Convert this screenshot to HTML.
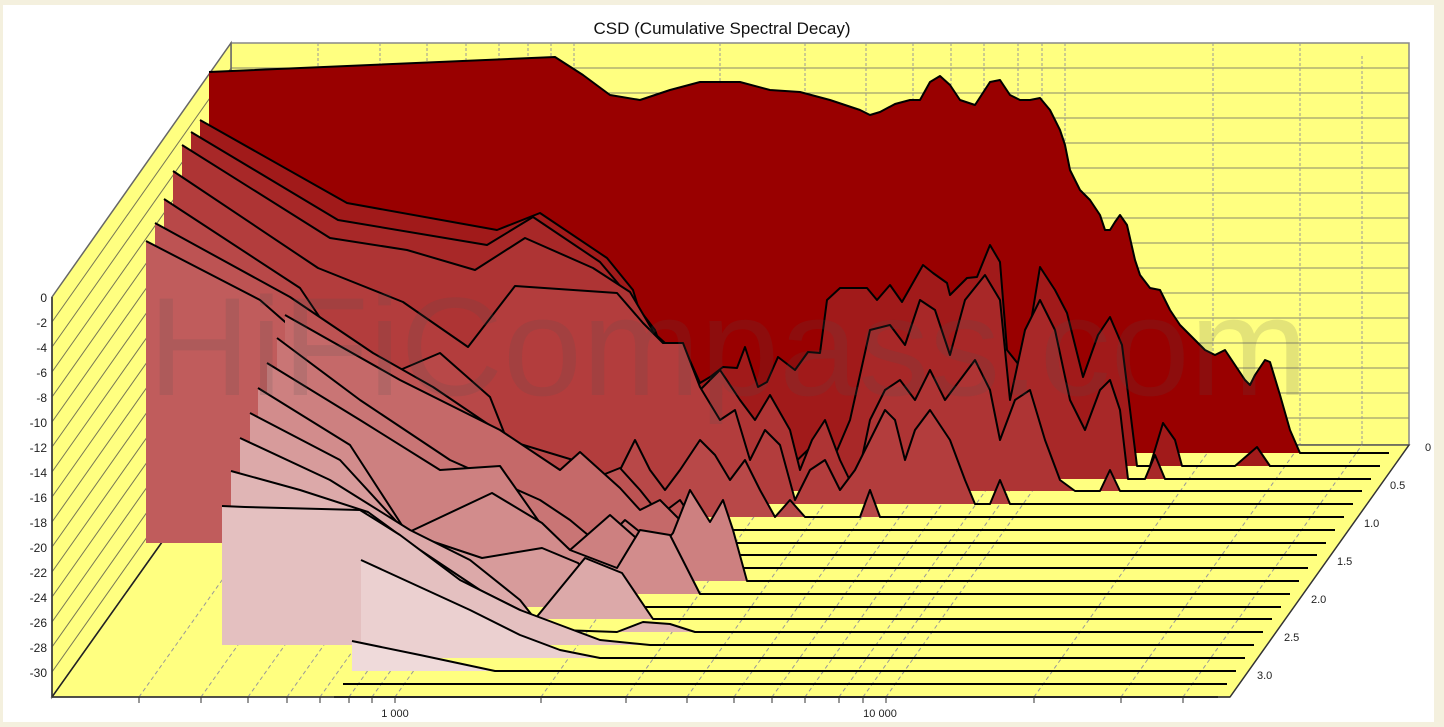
<!DOCTYPE html>
<html><head><meta charset="utf-8"><style>
html,body{margin:0;padding:0;background:#f4f0de;}
svg{display:block;}
text{font-family:"Liberation Sans",Arial,sans-serif;}
</style></head><body>
<svg width="1444" height="727" viewBox="0 0 1444 727" xmlns="http://www.w3.org/2000/svg">
<rect x="0" y="0" width="1444" height="727" fill="#f4f0de"/>
<rect x="3" y="5" width="1431" height="717" fill="#ffffff"/>
<text x="722" y="34" font-size="17" text-anchor="middle" fill="#111">CSD (Cumulative Spectral Decay)</text>

<!-- back wall -->
<rect x="231" y="43" width="1178" height="402" fill="#ffff80" stroke="#888" stroke-width="1.5"/>
<g stroke="#8a8a6a" stroke-width="1">
<line x1="231" y1="68" x2="1409" y2="68"/><line x1="231" y1="93" x2="1409" y2="93"/><line x1="231" y1="118" x2="1409" y2="118"/><line x1="231" y1="143" x2="1409" y2="143"/><line x1="231" y1="168" x2="1409" y2="168"/><line x1="231" y1="193" x2="1409" y2="193"/><line x1="231" y1="218" x2="1409" y2="218"/><line x1="231" y1="243" x2="1409" y2="243"/><line x1="231" y1="268" x2="1409" y2="268"/><line x1="231" y1="293" x2="1409" y2="293"/><line x1="231" y1="318" x2="1409" y2="318"/><line x1="231" y1="343" x2="1409" y2="343"/><line x1="231" y1="368" x2="1409" y2="368"/><line x1="231" y1="393" x2="1409" y2="393"/><line x1="231" y1="418" x2="1409" y2="418"/>
</g>
<g stroke="#999" stroke-width="1" stroke-dasharray="3,2">
<line x1="318" y1="43" x2="318" y2="445"/><line x1="380" y1="43" x2="380" y2="445"/><line x1="427" y1="43" x2="427" y2="445"/><line x1="466" y1="43" x2="466" y2="445"/><line x1="499" y1="43" x2="499" y2="445"/><line x1="528" y1="43" x2="528" y2="445"/><line x1="551" y1="43" x2="551" y2="445"/><line x1="574" y1="43" x2="574" y2="445"/><line x1="720" y1="43" x2="720" y2="445"/><line x1="805" y1="43" x2="805" y2="445"/><line x1="866" y1="43" x2="866" y2="445"/><line x1="913" y1="43" x2="913" y2="445"/><line x1="951" y1="43" x2="951" y2="445"/><line x1="984" y1="43" x2="984" y2="445"/><line x1="1018" y1="43" x2="1018" y2="445"/><line x1="1042" y1="43" x2="1042" y2="445"/><line x1="1065" y1="43" x2="1065" y2="445"/><line x1="1213" y1="43" x2="1213" y2="445"/><line x1="1300" y1="43" x2="1300" y2="445"/><line x1="1362" y1="56" x2="1362" y2="445"/>
</g>

<!-- left wall -->
<polygon points="52,297 231,43 231,445 52,697" fill="#ffff80" stroke="#666" stroke-width="1.5"/>
<g stroke="#777755" stroke-width="1">
<line x1="52" y1="322" x2="231" y2="68"/><line x1="52" y1="347" x2="231" y2="93"/><line x1="52" y1="372" x2="231" y2="118"/><line x1="52" y1="397" x2="231" y2="143"/><line x1="52" y1="422" x2="231" y2="168"/><line x1="52" y1="447" x2="231" y2="193"/><line x1="52" y1="472" x2="231" y2="218"/><line x1="52" y1="497" x2="231" y2="243"/><line x1="52" y1="522" x2="231" y2="268"/><line x1="52" y1="547" x2="231" y2="293"/><line x1="52" y1="572" x2="231" y2="318"/><line x1="52" y1="597" x2="231" y2="343"/><line x1="52" y1="622" x2="231" y2="368"/><line x1="52" y1="647" x2="231" y2="393"/><line x1="52" y1="672" x2="231" y2="418"/>
</g>

<!-- floor -->
<polygon points="52,697 231,445 1409,445 1230,697" fill="#ffff80" stroke="#555" stroke-width="1.5"/>
<g stroke="#999" stroke-width="1" stroke-dasharray="4,3">
<line x1="139" y1="697" x2="318" y2="445"/><line x1="201" y1="697" x2="380" y2="445"/><line x1="248" y1="697" x2="427" y2="445"/><line x1="287" y1="697" x2="466" y2="445"/><line x1="320" y1="697" x2="499" y2="445"/><line x1="349" y1="697" x2="528" y2="445"/><line x1="372" y1="697" x2="551" y2="445"/><line x1="395" y1="697" x2="574" y2="445"/><line x1="541" y1="697" x2="720" y2="445"/><line x1="626" y1="697" x2="805" y2="445"/><line x1="687" y1="697" x2="866" y2="445"/><line x1="734" y1="697" x2="913" y2="445"/><line x1="772" y1="697" x2="951" y2="445"/><line x1="805" y1="697" x2="984" y2="445"/><line x1="839" y1="697" x2="1018" y2="445"/><line x1="863" y1="697" x2="1042" y2="445"/><line x1="886" y1="697" x2="1065" y2="445"/><line x1="1034" y1="697" x2="1213" y2="445"/><line x1="1121" y1="697" x2="1300" y2="445"/><line x1="1183" y1="697" x2="1362" y2="445"/>
</g>
<line x1="52" y1="697" x2="231" y2="445" stroke="#222" stroke-width="1.5"/>

<g stroke="#000" stroke-width="2" stroke-linejoin="round" fill="none">
<!-- s0 -->
<polygon stroke="none" fill="#990000" points="209,453 209,72 555,57 583,75 610,95 640,100 670,90 700,82 740,82 770,90 800,92 830,100 860,110 870,115 880,112 895,104 910,100 920,100 930,82 940,76 950,85 960,100 975,105 990,82 1000,80 1010,95 1020,100 1030,100 1040,98 1050,110 1060,130 1065,145 1070,170 1080,190 1090,200 1100,215 1105,230 1110,230 1115,222 1120,215 1127,225 1135,260 1140,275 1150,288 1160,290 1170,310 1180,325 1195,340 1205,350 1215,355 1225,350 1235,365 1245,380 1250,385 1255,375 1265,360 1270,362 1280,395 1290,430 1300,453"/>
<polyline points="209,72 555,57 583,75 610,95 640,100 670,90 700,82 740,82 770,90 800,92 830,100 860,110 870,115 880,112 895,104 910,100 920,100 930,82 940,76 950,85 960,100 975,105 990,82 1000,80 1010,95 1020,100 1030,100 1040,98 1050,110 1060,130 1065,145 1070,170 1080,190 1090,200 1100,215 1105,230 1110,230 1115,222 1120,215 1127,225 1135,260 1140,275 1150,288 1160,290 1170,310 1180,325 1195,340 1205,350 1215,355 1225,350 1235,365 1245,380 1250,385 1255,375 1265,360 1270,362 1280,395 1290,430 1300,453 1389,453"/>
<!-- s1 -->
<polygon stroke="none" fill="#a11a1a" points="200,466 200,120 347,203 497,230 540,213 607,258 633,290 643,323 665,343 683,345 700,383 710,377 723,367 737,368 745,347 758,387 767,382 778,357 795,370 808,352 820,353 827,300 840,288 867,288 877,300 890,285 902,302 923,265 933,273 947,283 950,295 967,278 977,277 990,245 1000,262 1007,350 1023,370 1040,267 1055,290 1067,313 1083,377 1098,335 1110,317 1122,345 1137,466 1150,466 1163,423 1175,440 1182,466 1235,466 1257,447 1270,466"/>
<polyline points="200,120 347,203 497,230 540,213 607,258 633,290 643,323 665,343 683,345 700,383 710,377 723,367 737,368 745,347 758,387 767,382 778,357 795,370 808,352 820,353 827,300 840,288 867,288 877,300 890,285 902,302 923,265 933,273 947,283 950,295 967,278 977,277 990,245 1000,262 1007,350 1023,370 1040,267 1055,290 1067,313 1083,377 1098,335 1110,317 1122,345 1137,466 1150,466 1163,423 1175,440 1182,466 1235,466 1257,447 1270,466 1380,466"/>
<!-- s2 -->
<polygon stroke="none" fill="#a82828" points="191,479 191,132 338,220 487,245 533,217 600,262 632,300 655,330 677,392 693,397 710,440 725,410 740,400 753,450 772,440 787,470 813,445 833,460 850,420 870,330 890,325 905,345 920,300 935,310 950,355 965,300 985,275 1000,300 1010,400 1025,330 1040,300 1055,330 1070,400 1085,430 1100,390 1110,380 1120,410 1128,479 1145,479 1155,455 1165,479"/>
<polyline points="191,132 338,220 487,245 533,217 600,262 632,300 655,330 677,392 693,397 710,440 725,410 740,400 753,450 772,440 787,470 813,445 833,460 850,420 870,330 890,325 905,345 920,300 935,310 950,355 965,300 985,275 1000,300 1010,400 1025,330 1040,300 1055,330 1070,400 1085,430 1100,390 1110,380 1120,410 1128,479 1145,479 1155,455 1165,479 1371,479"/>
<!-- s3 -->
<polygon stroke="none" fill="#ae3434" points="182,491 182,145 330,238 407,250 475,270 525,238 593,268 630,292 660,343 683,345 700,390 720,370 740,400 755,420 770,395 790,430 800,470 812,440 825,420 840,460 855,491 870,420 885,390 900,380 915,400 930,370 945,400 960,380 975,360 990,390 1000,440 1015,400 1030,390 1045,440 1060,480 1075,491 1100,491 1110,470 1120,491"/>
<polyline points="182,145 330,238 407,250 475,270 525,238 593,268 630,292 660,343 683,345 700,390 720,370 740,400 755,420 770,395 790,430 800,470 812,440 825,420 840,460 855,491 870,420 885,390 900,380 915,400 930,370 945,400 960,380 975,360 990,390 1000,440 1015,400 1030,390 1045,440 1060,480 1075,491 1100,491 1110,470 1120,491 1362,491"/>
<!-- s4 -->
<polygon stroke="none" fill="#b33d3d" points="173,504 173,171 318,268 403,302 468,347 515,286 617,293 643,323 663,343 683,343 700,387 720,420 735,410 750,460 765,430 780,445 795,500 810,470 825,460 840,490 855,470 870,440 885,410 895,420 905,460 915,430 930,410 950,440 965,480 975,504 990,504 1000,480 1010,504"/>
<polyline points="173,171 318,268 403,302 468,347 515,286 617,293 643,323 663,343 683,343 700,387 720,420 735,410 750,460 765,430 780,445 795,500 810,470 825,460 840,490 855,470 870,440 885,410 895,420 905,460 915,430 930,410 950,440 965,480 975,504 990,504 1000,480 1010,504 1353,504"/>
<!-- s5 -->
<polygon stroke="none" fill="#b84848" points="164,517 164,199 300,288 333,337 400,370 440,353 490,397 507,440 583,463 600,480 620,470 635,440 650,470 665,490 680,470 700,440 715,455 730,480 745,460 760,490 775,517 790,500 805,517 860,517 870,490 880,517"/>
<polyline points="164,199 300,288 333,337 400,370 440,353 490,397 507,440 583,463 600,480 620,470 635,440 650,470 665,490 680,470 700,440 715,455 730,480 745,460 760,490 775,517 790,500 805,517 860,517 870,490 880,517 1344,517"/>
<!-- s6 -->
<polygon stroke="none" fill="#bd5353" points="155,530 155,223 290,297 373,353 433,387 507,437 560,470 590,480 620,468 640,490 660,515 680,500 700,530"/>
<polyline points="155,223 290,297 373,353 433,387 507,437 560,470 590,480 620,468 640,490 660,515 680,500 700,530 1335,530"/>
<!-- s7 -->
<polygon stroke="none" fill="#c05c5c" points="146,543 146,241 260,300 340,370 420,420 480,460 520,480 560,500 600,510 620,498 640,520 660,535 670,543"/>
<polyline points="146,241 260,300 340,370 420,420 480,460 520,480 560,500 600,510 620,498 640,520 660,535 670,543 1326,543"/>
<!-- s8 -->
<polygon stroke="none" fill="#c56969" points="285,555 285,315 400,380 500,430 560,470 580,452 600,470 620,488 640,510 660,500 680,520 700,555"/>
<polyline points="285,315 400,380 500,430 560,470 580,452 600,470 620,488 640,510 660,500 680,520 700,555 1317,555"/>
<!-- s9 -->
<polygon stroke="none" fill="#c97575" points="277,568 277,338 360,400 450,460 540,500 570,520 600,545 625,520 650,540 670,568"/>
<polyline points="277,338 360,400 450,460 540,500 570,520 600,545 625,520 650,540 670,568 1308,568"/>
<!-- s10 -->
<polygon stroke="none" fill="#cd8080" points="267,581 267,363 360,420 440,470 500,466 540,523 570,550 610,515 635,537 650,560 673,533 690,490 710,522 723,500 733,530 747,581"/>
<polyline points="267,363 360,420 440,470 500,466 540,523 570,550 610,515 635,537 650,560 673,533 690,490 710,522 723,500 733,530 747,581 1299,581"/>
<!-- s11 -->
<polygon stroke="none" fill="#d28c8c" points="258,594 258,388 350,445 407,533 492,493 542,523 570,550 617,568 640,530 670,535 700,594"/>
<polyline points="258,388 350,445 407,533 492,493 542,523 570,550 617,568 640,530 670,535 700,594 1290,594"/>
<!-- s12 -->
<polygon stroke="none" fill="#d79b9b" points="250,607 250,413 340,460 407,533 482,558 542,548 578,563 600,590 620,607"/>
<polyline points="250,413 340,460 407,533 482,558 542,548 578,563 600,590 620,607 1281,607"/>
<!-- s13 -->
<polygon stroke="none" fill="#dca9a9" points="240,619 240,438 330,480 410,530 470,560 520,600 535,619 585,558 622,573 653,619"/>
<polyline points="240,438 330,480 410,530 470,560 520,600 535,619 585,558 622,573 653,619 1272,619"/>
<!-- s14 -->
<polygon stroke="none" fill="#e0b5b5" points="231,632 231,471 300,490 368,512 420,550 480,590 530,615 560,630 617,632 643,622 670,624 695,632"/>
<polyline points="231,471 300,490 368,512 420,550 480,590 530,615 560,630 617,632 643,622 670,624 695,632 1263,632"/>
<!-- s15 -->
<polygon stroke="none" fill="#e4c0c0" points="222,645 222,506 360,510 400,535 460,580 520,610 560,625 600,640 650,645"/>
<polyline points="222,506 245,507 360,510 400,535 460,580 520,610 560,625 600,640 650,645 1254,645"/>
<!-- s16 -->
<polygon stroke="none" fill="#ebd0d0" points="361,658 361,560 470,610 520,635 560,650 600,658 655,658"/>
<polyline points="361,560 470,610 520,635 560,650 600,658 1245,658"/>
<!-- s17 -->
<polygon stroke="none" fill="#efdada" points="352,671 352,641 420,655 495,671"/>
<polyline points="352,641 420,655 495,671 1236,671"/>
<!-- s18,s19 -->
<polyline points="343,684 1227,684"/>
<polyline points="334,697 1218,697"/>
</g>

<!-- watermark -->
<text x="148" y="395" font-size="140" fill="#505050" fill-opacity="0.16" textLength="1160" lengthAdjust="spacingAndGlyphs">HiFiCompass.com</text>

<!-- axes -->
<line x1="52" y1="297" x2="52" y2="697" stroke="#333" stroke-width="1.5"/>
<line x1="52" y1="697" x2="1230" y2="697" stroke="#333" stroke-width="1.5"/>
<line x1="1230" y1="697" x2="1409" y2="445" stroke="#333" stroke-width="1.2"/>
<g font-size="12" fill="#222" text-anchor="end">
<text x="47" y="302">0</text><text x="47" y="327">-2</text><text x="47" y="352">-4</text><text x="47" y="377">-6</text><text x="47" y="402">-8</text><text x="47" y="427">-10</text><text x="47" y="452">-12</text><text x="47" y="477">-14</text><text x="47" y="502">-16</text><text x="47" y="527">-18</text><text x="47" y="552">-20</text><text x="47" y="577">-22</text><text x="47" y="602">-24</text><text x="47" y="627">-26</text><text x="47" y="652">-28</text><text x="47" y="677">-30</text>
</g>
<g stroke="#333" stroke-width="1">
<line x1="139" y1="697" x2="139" y2="703"/><line x1="201" y1="697" x2="201" y2="703"/><line x1="248" y1="697" x2="248" y2="703"/><line x1="287" y1="697" x2="287" y2="703"/><line x1="320" y1="697" x2="320" y2="703"/><line x1="349" y1="697" x2="349" y2="703"/><line x1="372" y1="697" x2="372" y2="703"/><line x1="395" y1="697" x2="395" y2="703"/><line x1="541" y1="697" x2="541" y2="703"/><line x1="626" y1="697" x2="626" y2="703"/><line x1="687" y1="697" x2="687" y2="703"/><line x1="734" y1="697" x2="734" y2="703"/><line x1="772" y1="697" x2="772" y2="703"/><line x1="805" y1="697" x2="805" y2="703"/><line x1="839" y1="697" x2="839" y2="703"/><line x1="863" y1="697" x2="863" y2="703"/><line x1="886" y1="697" x2="886" y2="703"/><line x1="1034" y1="697" x2="1034" y2="703"/><line x1="1121" y1="697" x2="1121" y2="703"/><line x1="1183" y1="697" x2="1183" y2="703"/>
</g>
<g font-size="11" fill="#222">
<text x="395" y="717" text-anchor="middle">1 000</text>
<text x="880" y="717" text-anchor="middle">10 000</text>
<text x="1425" y="451">0</text>
<text x="1390" y="489">0.5</text>
<text x="1364" y="527">1.0</text>
<text x="1337" y="565">1.5</text>
<text x="1311" y="603">2.0</text>
<text x="1284" y="641">2.5</text>
<text x="1257" y="679">3.0</text>
</g>
</svg>
</body></html>
